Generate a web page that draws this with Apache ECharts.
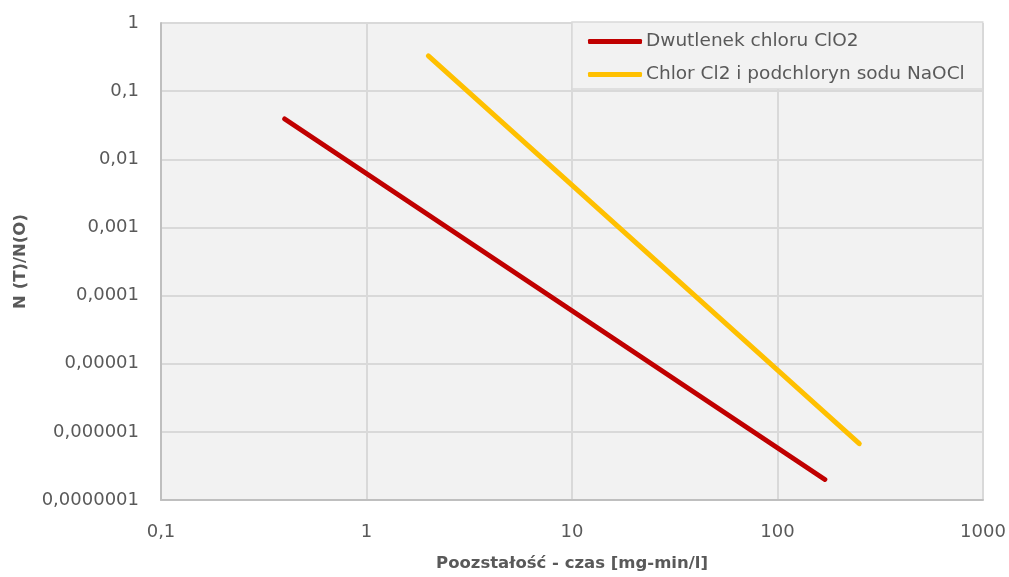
<!DOCTYPE html>
<html>
<head>
<meta charset="utf-8">
<script src="https://cdn.jsdelivr.net/npm/echarts@6/dist/echarts.min.js"></script>
<style>html,body{margin:0;padding:0;background:#fff}#c{width:1009px;height:577px}</style>
</head>
<body>
<div id="c"></div>
<script>
const seriesNames = ['Dwutlenek chloru ClO2', 'Chlor Cl2 i podchloryn sodu NaOCl'];
const clo2X = [0.4, 170];
const clo2Y = [0.039, 2.0e-7];
const naoclX = [2, 250];
const naoclY = [0.33, 6.7e-7];
const xTicks = [0.1, 1, 10, 100, 1000];
const yTicks = [1e-7, 1e-6, 1e-5, 1e-4, 1e-3, 1e-2, 1e-1, 1];
const xTitle = 'Poozstałość - czas [mg-min/l]';
const yTitle = 'N (T)/N(O)';

function fmt(v) {
  const e = Math.round(Math.log10(v));
  if (e >= 0) return String(Math.round(v));
  return v.toFixed(-e).replace('.', ',');
}
const font = 'DejaVu Sans';
const chart = echarts.init(document.getElementById('c'));
chart.setOption({
  backgroundColor: '#ffffff',
  animation: false,
  grid: { left: 161, right: 26, top: 23, bottom: 77, show: true, backgroundColor: '#f2f2f2', borderWidth: 0 },
  legend: {
    data: seriesNames,
    orient: 'vertical',
    left: 572, top: 22,
    backgroundColor: '#f2f2f2',
    borderColor: '#d9d9d9', borderWidth: 1.5,
    padding: [10, 18, 5, 16],
    itemGap: 14,
    itemWidth: 54, itemHeight: 5,
    icon: 'roundRect',
    textStyle: { fontFamily: font, fontSize: 18.5, color: '#595959', padding: [0, 0, 0, -1] }
  },
  xAxis: {
    type: 'log', logBase: 10, min: xTicks[0], max: xTicks[xTicks.length - 1],
    name: xTitle, nameLocation: 'middle', nameGap: 55,
    nameTextStyle: { fontFamily: font, fontSize: 16.5, fontWeight: 'bold', color: '#595959' },
    axisLine: { show: true, lineStyle: { color: '#bfbfbf', width: 2 } },
    axisTick: { show: false },
    splitLine: { show: true, lineStyle: { color: '#d9d9d9', width: 2 } },
    axisLabel: { formatter: fmt, fontFamily: font, fontSize: 18, color: '#595959', margin: 23 }
  },
  yAxis: {
    type: 'log', logBase: 10, min: yTicks[0], max: yTicks[yTicks.length - 1],
    name: yTitle, nameLocation: 'middle', nameGap: 132,
    nameTextStyle: { fontFamily: font, fontSize: 16.5, fontWeight: 'bold', color: '#595959' },
    axisLine: { show: true, lineStyle: { color: '#bfbfbf', width: 2 } },
    axisTick: { show: false },
    splitLine: { show: true, lineStyle: { color: '#d9d9d9', width: 2 } },
    axisLabel: { formatter: fmt, fontFamily: font, fontSize: 18, color: '#595959', margin: 22 }
  },
  series: [
    {
      name: seriesNames[0], type: 'line', symbol: 'none',
      data: clo2X.map((x, i) => [x, clo2Y[i]]),
      itemStyle: { color: '#c00000' },
      lineStyle: { color: '#c00000', width: 5, cap: 'round' }
    },
    {
      name: seriesNames[1], type: 'line', symbol: 'none',
      data: naoclX.map((x, i) => [x, naoclY[i]]),
      itemStyle: { color: '#ffc000' },
      lineStyle: { color: '#ffc000', width: 5, cap: 'round' }
    }
  ]
});
</script>
</body>
</html>
